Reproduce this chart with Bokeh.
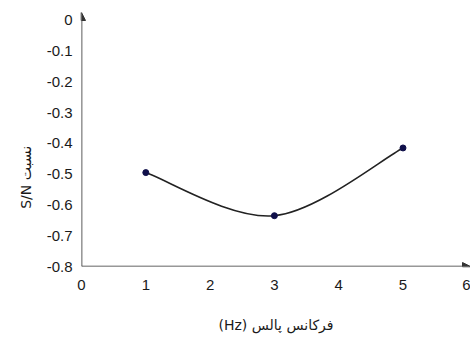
from bokeh.plotting import figure
from bokeh.models import Range1d, FixedTicker, Arrow, NormalHead, ColumnDataSource
from bokeh.embed import file_html
from bokeh.resources import INLINE

# Data
freq = [1, 3, 5]
sn = [-0.495, -0.635, -0.415]
x_ticks = [0, 1, 2, 3, 4, 5, 6]
y_ticks = [0, -0.1, -0.2, -0.3, -0.4, -0.5, -0.6, -0.7, -0.8]
y_tick_labels = ["0", "-0.1", "-0.2", "-0.3", "-0.4", "-0.5", "-0.6", "-0.7", "-0.8"]
x_label = "(Hz) فرکانس پالس"
y_label = "S/N نسبت" + "\u00a0" * 17

x_start, x_end = 0, 6.05
y_start, y_end = -0.8, 0.025

p = figure(width=470, height=335, output_backend="svg", toolbar_location=None,
           x_range=Range1d(x_start, x_end), y_range=Range1d(y_start, y_end),
           min_border_left=81, min_border_top=12, min_border_bottom=67, min_border_right=0)
p.outline_line_color = None
p.grid.visible = False
p.background_fill_color = "white"
p.border_fill_color = "white"

for ax in (p.xaxis[0], p.yaxis[0]):
    ax.axis_line_color = None
    ax.major_tick_line_color = None
    ax.minor_tick_line_color = None
    ax.major_label_text_font = "Liberation Sans"
    ax.major_label_text_font_size = "15px"
    ax.major_label_text_color = "#1a1a1a"
    ax.axis_label_text_font = "DejaVu Sans"
    ax.axis_label_text_font_size = "14px"
    ax.axis_label_text_font_style = "normal"
    ax.axis_label_text_color = "#1a1a1a"

p.xaxis.ticker = FixedTicker(ticks=x_ticks)
p.xaxis.major_label_overrides = {t: str(t) for t in x_ticks}
p.xaxis.major_label_standoff = 7
p.xaxis.axis_label = x_label
p.xaxis.axis_label_standoff = 24

p.yaxis.ticker = FixedTicker(ticks=y_ticks)
p.yaxis.major_label_overrides = dict(zip(y_ticks, y_tick_labels))
p.yaxis.major_label_standoff = 3
p.yaxis.axis_label = y_label
p.yaxis.axis_label_standoff = 10

# axis arrows
p.add_layout(Arrow(x_start=x_start, y_start=y_start, x_end=x_start, y_end=y_end,
                   line_color="#333333", line_width=1.6,
                   end=NormalHead(size=8, fill_color="#333333", line_color="#333333")))
p.add_layout(Arrow(x_start=x_start, y_start=y_start, x_end=x_end, y_end=y_start,
                   line_color="#333333", line_width=1.6,
                   end=NormalHead(size=8, fill_color="#333333", line_color="#333333")))

# smoothed line (Excel-like Catmull-Rom bezier)
n = len(freq)
x0, y0, x1, y1, cx0, cy0, cx1, cy1 = [], [], [], [], [], [], [], []
for i in range(n - 1):
    im = max(i - 1, 0)
    ip2 = min(i + 2, n - 1)
    x0.append(freq[i]); y0.append(sn[i])
    x1.append(freq[i + 1]); y1.append(sn[i + 1])
    cx0.append(freq[i] + (freq[i + 1] - freq[im]) / 6)
    cy0.append(sn[i] + (sn[i + 1] - sn[im]) / 6)
    cx1.append(freq[i + 1] - (freq[ip2] - freq[i]) / 6)
    cy1.append(sn[i + 1] - (sn[ip2] - sn[i]) / 6)
src = ColumnDataSource(dict(x0=x0, y0=y0, x1=x1, y1=y1, cx0=cx0, cy0=cy0, cx1=cx1, cy1=cy1))
p.bezier(x0="x0", y0="y0", x1="x1", y1="y1", cx0="cx0", cy0="cy0", cx1="cx1", cy1="cy1",
         source=src, line_color="#222222", line_width=1.6)

p.scatter(freq, sn, size=6, fill_color="#10104a", line_color="#10104a")

open("out.html", "w").write(file_html(p, INLINE))
